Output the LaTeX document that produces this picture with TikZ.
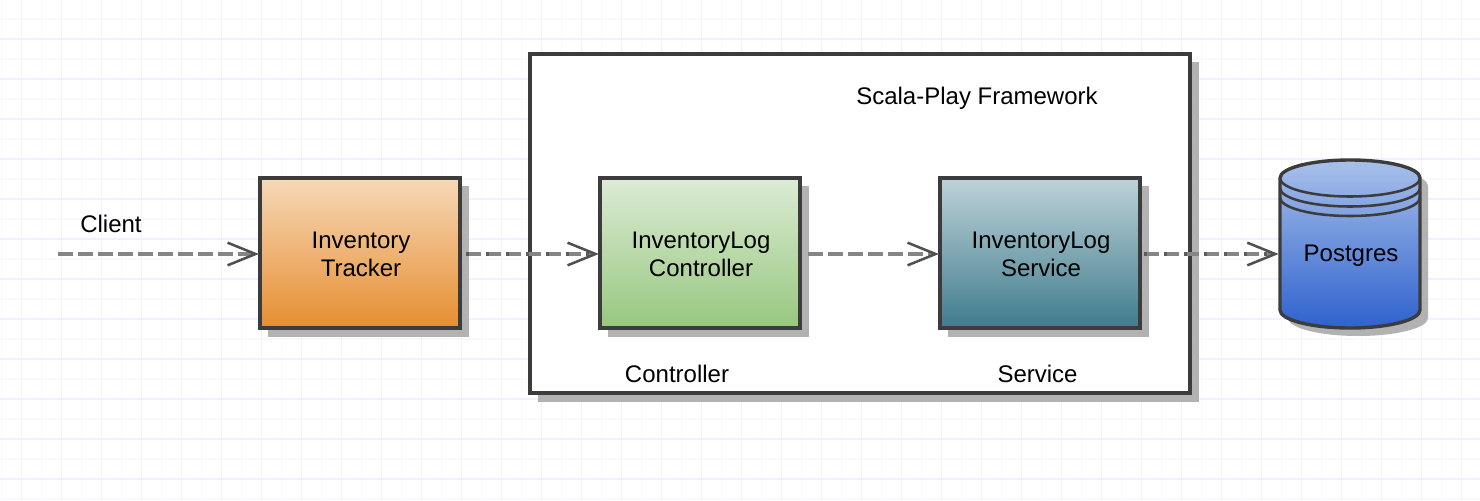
\documentclass[tikz,border=0pt]{standalone}
\usepackage{fontspec}
\setmainfont{Liberation Sans}
\usetikzlibrary{arrows.meta,calc}
\newlength{\px}\setlength{\px}{0.75pt}
\definecolor{edgeC}{HTML}{3C3C3C}
\definecolor{shadowC}{HTML}{B2B2B2}
\definecolor{gridMajor}{HTML}{F1F0FF}
\definecolor{gridMinor}{HTML}{F9F8FF}
\definecolor{dashC}{HTML}{858585}
\definecolor{tipC}{HTML}{505050}
\tikzset{
  lbl/.style={font=\fontsize{18pt}{21pt}\selectfont, align=center, text=black, inner sep=0pt},
  flowbox/.style={draw=edgeC, line width=2.55pt, minimum width=150pt, minimum height=112.5pt, outer sep=0pt, inner sep=0pt},
  boxtext/.style={label={[lbl, xshift=0.75pt, yshift=-1.2pt]center:{#1}}},
  shadowbox/.style={fill=shadowC, draw=none},
  conn/.style={draw=dashC, line width=2.3pt, dash pattern=on 11.25pt off 3.75pt,
    -{Straight Barb[length=21pt, width=17pt, line width=1.9pt, color=tipC]}, shorten >=0.8pt},
  over/.style={draw=edgeC, opacity=.55, line width=2.3pt, dash pattern=on 2.25pt off 12.75pt}
}
\begin{document}
\begin{tikzpicture}[x=\px, y=-\px]
\useasboundingbox (0,0) rectangle (1480,500);
\fill[white] (0,0) rectangle (1480,500);
% grid
\foreach \i in {0,...,73}{
  \pgfmathsetmacro{\xx}{1.5+20*\i}
  \draw[gridMinor, line width=1.1pt] (\xx,0) -- (\xx,500);
}
\foreach \i in {0,...,24}{
  \pgfmathsetmacro{\yy}{19+20*\i}
  \draw[gridMinor, line width=1.1pt] (0,\yy) -- (1480,\yy);
}
\foreach \i in {0,...,36}{
  \pgfmathsetmacro{\xx}{21.5+40*\i}
  \draw[gridMajor, line width=1.1pt] (\xx,0) -- (\xx,500);
}
\foreach \i in {0,...,11}{
  \pgfmathsetmacro{\yy}{39+40*\i}
  \draw[gridMajor, line width=1.1pt] (0,\yy) -- (1480,\yy);
}
% shadows
\fill[shadowbox] (538,62) rectangle (1199,402);
\fill[shadowbox] (268,186) rectangle (469,337);
% frame
\node[draw=edgeC, fill=white, line width=2.55pt, minimum width=495pt, minimum height=254.25pt, outer sep=0pt, inner sep=0pt] (frame) at (860,223.5) {};
\fill[shadowbox] (608,186) rectangle (809,337);
\fill[shadowbox] (948,186) rectangle (1149,337);
% boxes
\node[flowbox, boxtext={Inventory\\Tracker}, top color={rgb,255:red,246;green,216;blue,184}, bottom color={rgb,255:red,230;green,142;blue,48}] (tracker) at (360,253) {};
\node[flowbox, boxtext={InventoryLog\\Controller}, top color={rgb,255:red,220;green,235;blue,212}, bottom color={rgb,255:red,151;green,199;blue,127}] (controller) at (700,253) {};
\node[flowbox, boxtext={InventoryLog\\Service}, top color={rgb,255:red,189;green,210;blue,216}, bottom color={rgb,255:red,63;green,124;blue,140}] (service) at (1040,253) {};
% cylinder
\fill[shadowC] (1288,186) -- (1288,318) arc[start angle=180,end angle=0,x radius=70,y radius=18] -- (1428,186) arc[start angle=0,end angle=-180,x radius=70,y radius=18] -- cycle;
\path[draw=edgeC, line width=2.55pt, top color={rgb,255:red,168;green,192;blue,234}, bottom color={rgb,255:red,47;green,98;blue,206}]
  (1280,178) -- (1280,310) arc[start angle=180,end angle=0,x radius=70,y radius=18] -- (1420,178) arc[start angle=0,end angle=-180,x radius=70,y radius=18] -- cycle;
\draw[edgeC, line width=1.9pt] (1280,178) arc[start angle=180,end angle=0,x radius=70,y radius=18.5];
\draw[edgeC, line width=1.9pt] (1280,188) arc[start angle=180,end angle=0,x radius=70,y radius=18.5];
\draw[edgeC, line width=1.9pt] (1280,197.5) arc[start angle=180,end angle=0,x radius=70,y radius=18.5];
\node[lbl, minimum width=105pt, minimum height=126pt] (db) at (1350,244) {};
\node[lbl] (dbLabel) at (1351,256) {Postgres};
% labels
\node[lbl] (client) at (111,224) {Client};
\node[lbl] (framework) at (977,98) {Scala-Play Framework};
\node[lbl] (ctrlLabel) at (677,374) {Controller};
\node[lbl] (svcLabel) at (1037.5,374) {Service};
% connectors
\coordinate (start) at (58,254);
\coordinate (t1) at (466,254);
\coordinate (c1) at (808,254);
\coordinate (s1) at (1144,254);
\draw[conn] (start) -- (tracker.west |- start);
\draw[conn] (t1) -- (controller.west |- t1);
\draw[over, dash phase=-15pt] (t1) -- ($(controller.west |- t1)+(-8,0)$);
\draw[conn] (c1) -- (service.west |- c1);
\draw[conn] (s1) -- (db.west |- s1);
\draw[over, dash phase=-15pt] (s1) -- ($(db.west |- s1)+(-8,0)$);
\end{tikzpicture}
\end{document}
